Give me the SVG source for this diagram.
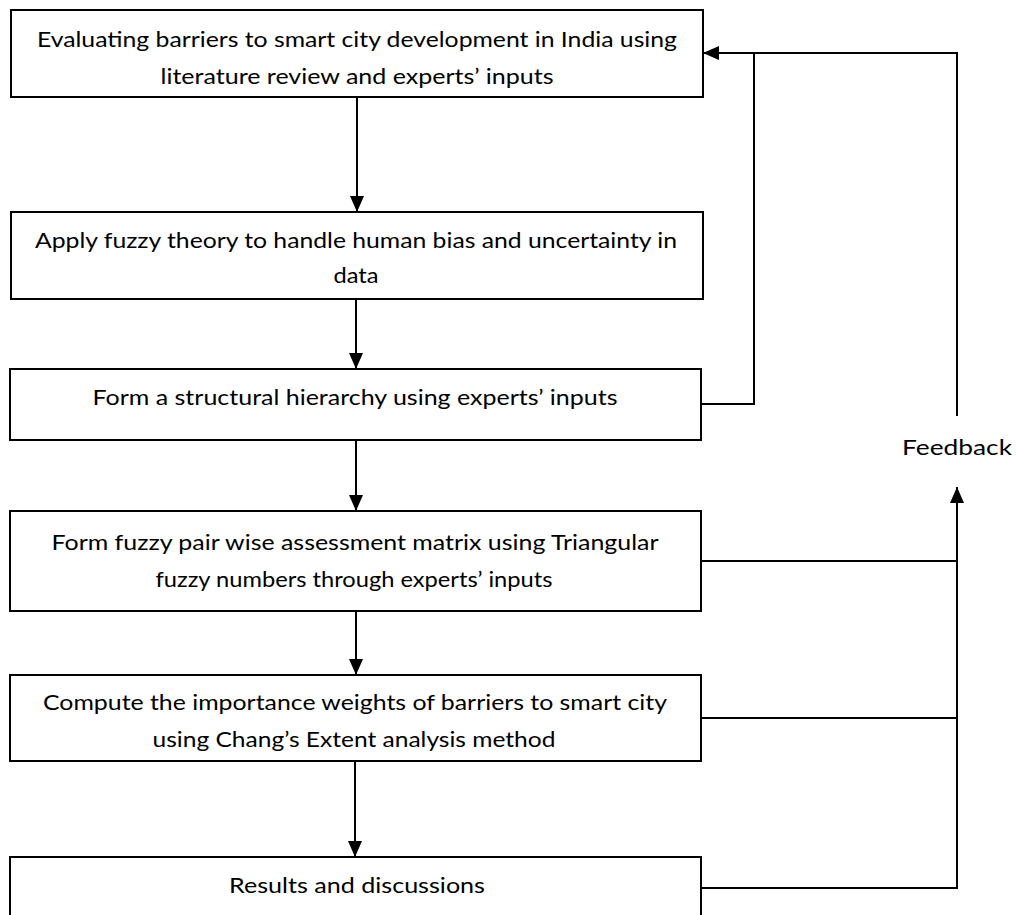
<svg xmlns="http://www.w3.org/2000/svg" width="1016" height="915" viewBox="0 0 1016 915">
<style>
.box{fill:#fff;stroke:#000;stroke-width:2}
.t{font-family:Lato,"Open Sans","Liberation Sans",sans-serif;font-size:21px;fill:#000;text-anchor:middle}
.c{fill:none;stroke:#000;stroke-width:2}
</style>
<defs>
<marker id="ah" markerUnits="userSpaceOnUse" markerWidth="16" markerHeight="14" refX="16" refY="7" orient="auto">
<path d="M0,0 L16,7 L0,14 z" fill="#000"/>
</marker>
</defs>
<rect width="1016" height="915" fill="#fff"/>
<g id="n1"><rect class="box" x="11" y="10" width="692" height="87"/>
<text class="t" x="357" y="47" textLength="640" lengthAdjust="spacingAndGlyphs">Evaluating barriers to smart city development in India using</text>
<text class="t" x="357" y="84" textLength="393" lengthAdjust="spacingAndGlyphs">literature review and experts’ inputs</text></g>
<g id="n2"><rect class="box" x="11" y="212" width="692" height="87"/>
<text class="t" x="356" y="248" textLength="642" lengthAdjust="spacingAndGlyphs">Apply fuzzy theory to handle human bias and uncertainty in</text>
<text class="t" x="356" y="283" textLength="45" lengthAdjust="spacingAndGlyphs">data</text></g>
<g id="n3"><rect class="box" x="10" y="369" width="691" height="71"/>
<text class="t" x="355" y="405" textLength="525" lengthAdjust="spacingAndGlyphs">Form a structural hierarchy using experts’ inputs</text></g>
<g id="n4"><rect class="box" x="10" y="511" width="691" height="100"/>
<text class="t" x="355" y="550" textLength="607" lengthAdjust="spacingAndGlyphs">Form fuzzy pair wise assessment matrix using Triangular</text>
<text class="t" x="354" y="587" textLength="397" lengthAdjust="spacingAndGlyphs">fuzzy numbers through experts’ inputs</text></g>
<g id="n5"><rect class="box" x="10" y="675" width="691" height="86"/>
<text class="t" x="355" y="710" textLength="624" lengthAdjust="spacingAndGlyphs">Compute the importance weights of barriers to smart city</text>
<text class="t" x="354" y="747" textLength="403" lengthAdjust="spacingAndGlyphs">using Chang’s Extent analysis method</text></g>
<g id="n6"><rect class="box" x="10" y="857" width="691" height="70"/>
<text class="t" x="357" y="893" textLength="256" lengthAdjust="spacingAndGlyphs">Results and discussions</text></g>
<g id="feedback"><text class="t" x="957" y="455" textLength="110" lengthAdjust="spacingAndGlyphs">Feedback</text></g>
<g id="connectors">
<path class="c" d="M357,97 V212" marker-end="url(#ah)"/>
<path class="c" d="M356,299 V369" marker-end="url(#ah)"/>
<path class="c" d="M356,440 V511" marker-end="url(#ah)"/>
<path class="c" d="M356,611 V675" marker-end="url(#ah)"/>
<path class="c" d="M355,761 V857" marker-end="url(#ah)"/>
<path class="c" d="M957,416 V53 H703" marker-end="url(#ah)"/>
<path class="c" d="M701,404 H754 V53"/>
<path class="c" d="M701,888 H957 V487" marker-end="url(#ah)"/>
<path class="c" d="M701,561 H957"/>
<path class="c" d="M701,718 H957"/>
</g>
</svg>
